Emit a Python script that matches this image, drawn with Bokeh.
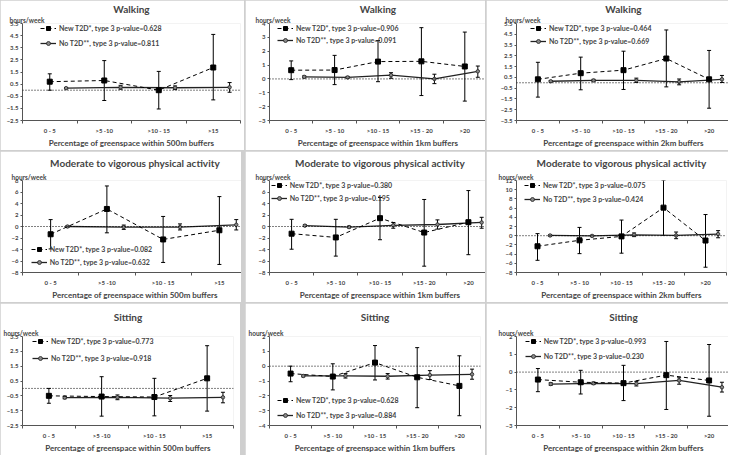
from bokeh.plotting import figure
from bokeh.layouts import gridplot
from bokeh.models import (ColumnDataSource, Whisker, TeeHead, Span, Title, Legend,
                          LegendItem, FixedTicker, Range1d)
from bokeh.embed import file_html
from bokeh.resources import INLINE

FONT = "Lato"

# ---------------- data ----------------
cats4 = ["0 - 5", ">5 -10", ">10 - 15", ">15"]
cats5 = ["0 - 5", ">5 - 10", ">10 - 15", ">15 - 20", ">20"]

walk500_new = [0.70, 0.80, 0.00, 1.87]
walk500_new_lo = [0.00, -0.85, -1.55, -0.80]
walk500_new_hi = [1.35, 2.44, 1.55, 4.60]
walk500_no = [0.17, 0.24, 0.20, 0.24]
walk500_no_lo = [0.12, 0.08, 0.05, -0.17]
walk500_no_hi = [0.22, 0.40, 0.35, 0.63]
walk500_yticks = [-2.5, -1.5, -0.5, 0.5, 1.5, 2.5, 3.5, 4.5, 5.5]
walk500_p = ["0.628", "0.811"]

walk1k_new = [0.63, 0.64, 1.25, 1.27, 0.90]
walk1k_new_lo = [-0.05, -0.41, -0.20, -1.20, -1.60]
walk1k_new_hi = [1.30, 1.70, 2.77, 3.70, 3.38]
walk1k_no = [0.15, 0.11, 0.27, 0.00, 0.55]
walk1k_no_lo = [0.08, 0.04, 0.05, -0.34, 0.12]
walk1k_no_hi = [0.22, 0.18, 0.45, 0.34, 0.93]
walk1k_yticks = [-3, -2, -1, 0, 1, 2, 3, 4]
walk1k_p = ["0.906", "0.091"]

walk2k_new = [0.32, 0.89, 1.17, 2.25, 0.32]
walk2k_new_lo = [-1.33, -0.65, -0.62, -0.38, -2.36]
walk2k_new_hi = [1.90, 2.38, 2.93, 4.90, 3.00]
walk2k_no = [0.14, 0.22, 0.22, 0.08, 0.32]
walk2k_no_lo = [0.07, 0.12, 0.03, -0.19, 0.03]
walk2k_no_hi = [0.21, 0.32, 0.43, 0.35, 0.68]
walk2k_yticks = [-3.5, -2.5, -1.5, -0.5, 0.5, 1.5, 2.5, 3.5, 4.5, 5.5]
walk2k_p = ["0.464", "0.669"]

mvpa500_new = [-1.35, 3.05, -2.25, -0.65]
mvpa500_new_lo = [-3.90, -1.10, -6.25, -6.60]
mvpa500_new_hi = [1.20, 7.05, 1.75, 5.20]
mvpa500_no = [0.00, -0.10, -0.10, 0.30]
mvpa500_no_lo = [-0.15, -0.50, -0.60, -0.60]
mvpa500_no_hi = [0.15, 0.25, 0.45, 1.20]
mvpa500_yticks = [-8, -6, -4, -2, 0, 2, 4, 6, 8]
mvpa500_p = ["0.082", "0.632"]

mvpa1k_new = [-1.25, -1.90, 1.45, -1.05, 0.75]
mvpa1k_new_lo = [-3.95, -5.15, -2.30, -6.90, -4.90]
mvpa1k_new_hi = [1.25, 1.25, 5.05, 4.70, 6.25]
mvpa1k_no = [0.15, -0.10, 0.20, 0.35, 0.70]
mvpa1k_no_lo = [0.00, -0.25, -0.30, -0.45, -0.30]
mvpa1k_no_hi = [0.30, 0.05, 0.70, 1.15, 1.60]
mvpa1k_yticks = [-8, -6, -4, -2, 0, 2, 4, 6, 8]
mvpa1k_p = ["0.380", "0.195"]

mvpa2k_new = [-2.30, -1.00, -0.15, 6.10, -1.05]
mvpa2k_new_lo = [-5.35, -3.90, -3.80, 0.05, -6.85]
mvpa2k_new_hi = [0.45, 1.80, 3.40, 12.05, 4.60]
mvpa2k_no = [0.05, -0.05, 0.20, 0.05, 0.35]
mvpa2k_no_lo = [-0.10, -0.20, -0.20, -0.65, -0.45]
mvpa2k_no_hi = [0.20, 0.10, 0.60, 0.80, 1.10]
mvpa2k_yticks = [-8, -6, -4, -2, 0, 2, 4, 6, 8, 10, 12]
mvpa2k_p = ["0.075", "0.424"]

sit500_new = [-0.50, -0.55, -0.58, 0.68]
sit500_new_lo = [-1.00, -1.87, -1.85, -1.53]
sit500_new_hi = [0.00, 0.79, 0.68, 2.88]
sit500_no = [-0.62, -0.60, -0.66, -0.60]
sit500_no_lo = [-0.70, -0.76, -0.88, -0.97]
sit500_no_hi = [-0.54, -0.44, -0.48, -0.26]
sit500_yticks = [-2.5, -1.5, -0.5, 0.5, 1.5, 2.5, 3.5]
sit500_p = ["0.773", "0.918"]

sit1k_new = [-0.50, -0.70, 0.24, -0.75, -1.33]
sit1k_new_lo = [-1.05, -1.60, -0.93, -2.80, -3.34]
sit1k_new_hi = [0.00, 0.16, 1.39, 1.25, 0.70]
sit1k_no = [-0.66, -0.65, -0.68, -0.60, -0.55]
sit1k_no_lo = [-0.72, -0.80, -0.87, -0.90, -0.88]
sit1k_no_hi = [-0.60, -0.50, -0.50, -0.30, -0.20]
sit1k_yticks = [-4, -3, -2, -1, 0, 1, 2]
sit1k_p = ["0.628", "0.884"]

sit2k_new = [-0.42, -0.57, -0.62, -0.17, -0.47]
sit2k_new_lo = [-1.10, -1.23, -1.60, -2.10, -2.48]
sit2k_new_hi = [0.20, 0.10, 0.38, 1.72, 1.55]
sit2k_no = [-0.67, -0.63, -0.65, -0.47, -0.85]
sit2k_no_lo = [-0.74, -0.70, -0.78, -0.68, -1.12]
sit2k_no_hi = [-0.60, -0.56, -0.52, -0.32, -0.57]
sit2k_yticks = [-3, -2, -1, 0, 1, 2]
sit2k_p = ["0.993", "0.230"]

titles = ["Walking", "Moderate to vigorous physical activity", "Sitting"]
xlabels = ["Percentage of greenspace within 500m buffers",
           "Percentage of greenspace within 1km buffers",
           "Percentage of greenspace within 2km buffers"]
unit_label = "hours/week"
legend_new = "New T2D*, type 3 p-value="
legend_no = "No T2D**, type 3 p-value="

data = [
    [(cats4, walk500_new, walk500_new_lo, walk500_new_hi, walk500_no, walk500_no_lo, walk500_no_hi, walk500_yticks, walk500_p),
     (cats5, walk1k_new, walk1k_new_lo, walk1k_new_hi, walk1k_no, walk1k_no_lo, walk1k_no_hi, walk1k_yticks, walk1k_p),
     (cats5, walk2k_new, walk2k_new_lo, walk2k_new_hi, walk2k_no, walk2k_no_lo, walk2k_no_hi, walk2k_yticks, walk2k_p)],
    [(cats4, mvpa500_new, mvpa500_new_lo, mvpa500_new_hi, mvpa500_no, mvpa500_no_lo, mvpa500_no_hi, mvpa500_yticks, mvpa500_p),
     (cats5, mvpa1k_new, mvpa1k_new_lo, mvpa1k_new_hi, mvpa1k_no, mvpa1k_no_lo, mvpa1k_no_hi, mvpa1k_yticks, mvpa1k_p),
     (cats5, mvpa2k_new, mvpa2k_new_lo, mvpa2k_new_hi, mvpa2k_no, mvpa2k_no_lo, mvpa2k_no_hi, mvpa2k_yticks, mvpa2k_p)],
    [(cats4, sit500_new, sit500_new_lo, sit500_new_hi, sit500_no, sit500_no_lo, sit500_no_hi, sit500_yticks, sit500_p),
     (cats5, sit1k_new, sit1k_new_lo, sit1k_new_hi, sit1k_no, sit1k_no_lo, sit1k_no_hi, sit1k_yticks, sit1k_p),
     (cats5, sit2k_new, sit2k_new_lo, sit2k_new_hi, sit2k_no, sit2k_no_lo, sit2k_no_hi, sit2k_yticks, sit2k_p)],
]

# ---------------- layout (positions / sizes) ----------------
col_w = [240, 240, 242]
row_frame_h = [97, 92, 89]
row_title_standoff = [0, 6, 10]
BOTTOM = 23
# borders; legend: glyph left (from frame left), anchor, row centre (from frame top or bottom), row gap
lay = [
    [dict(l=15, r=7, dx=18, anchor="top", c=5, gap=15, ux=2),
     dict(l=16, r=7, dx=15, anchor="top", c=5, gap=12, ux=2),
     dict(l=21, r=7, dx=22, anchor="top", c=5, gap=13, ux=10)],
    [dict(l=13, r=2, dx=16, anchor="bottom", c=10, gap=13, ux=2),
     dict(l=17, r=2, dx=10, anchor="top", c=5, gap=13, ux=3),
     dict(l=30, r=2, dx=8, anchor="top", c=5, gap=14, ux=12)],
    [dict(l=22, r=7, dx=10, anchor="top", c=5, gap=17, ux=3),
     dict(l=24, r=5, dx=8, anchor="bottom", c=10, gap=15, ux=3),
     dict(l=21, r=7, dx=20, anchor="top", c=5, gap=15, ux=3)],
]

ITEM_H = 10
AX = "#555555"


def make_panel(r, c):
    cats, new, new_lo, new_hi, no, no_lo, no_hi, yticks, pv = data[r][c]
    L = lay[r][c]
    FW = col_w[c] - L["l"] - L["r"]
    FH = row_frame_h[r]
    n = len(cats)
    x_new = list(range(n))
    x_no = [i + 0.3 for i in range(n)]

    p = figure(frame_width=FW, frame_height=FH, x_range=Range1d(-0.5, n - 0.5),
               y_range=Range1d(yticks[0], yticks[-1]),
               output_backend="svg", toolbar_location=None, tools="",
               min_border_left=L["l"], min_border_right=L["r"],
               min_border_top=0, min_border_bottom=BOTTOM)
    p.outline_line_color = None
    p.xgrid.grid_line_color = None
    p.ygrid.grid_line_color = None
    p.background_fill_color = "white"
    p.border_fill_color = "white"

    # unit label (next to the frame) and main title (outermost)
    p.add_layout(Title(text=unit_label, align="left", offset=L["ux"] - L["l"],
                       text_font=FONT, text_font_size="6.5px", text_font_style="bold",
                       standoff=0), "above")
    p.title.text = titles[r]
    p.title.align = "center"
    p.title.text_font = FONT
    p.title.text_font_size = "10px"
    p.title.text_font_style = "bold"
    p.title.standoff = row_title_standoff[r]

    # axes
    p.xaxis.ticker = FixedTicker(ticks=x_new, minor_ticks=[i - 0.5 for i in range(n + 1)])
    p.xaxis.major_label_overrides = {i: s for i, s in enumerate(cats)}
    p.xaxis.major_tick_line_color = None
    p.xaxis.major_tick_out = 0
    p.xaxis.major_tick_in = 0
    p.xaxis.minor_tick_line_color = AX
    p.xaxis.minor_tick_out = 3
    p.xaxis.minor_tick_in = 0
    p.xaxis.axis_line_color = AX
    p.xaxis.major_label_text_font = FONT
    p.xaxis.major_label_text_font_size = "6px"
    p.xaxis.major_label_text_font_style = "bold"
    p.xaxis.major_label_standoff = 3
    p.xaxis.axis_label = xlabels[c]
    p.xaxis.axis_label_text_font = FONT
    p.xaxis.axis_label_text_font_size = "8px"
    p.xaxis.axis_label_text_font_style = "bold"
    p.xaxis.axis_label_standoff = 1

    p.yaxis.ticker = FixedTicker(ticks=yticks)
    p.yaxis.minor_tick_line_color = None
    p.yaxis.major_tick_out = 2
    p.yaxis.major_tick_in = 0
    p.yaxis.axis_line_color = AX
    p.yaxis.major_tick_line_color = AX
    p.yaxis.major_label_text_font = FONT
    p.yaxis.major_label_text_font_size = "6px"
    p.yaxis.major_label_text_font_style = "bold"
    p.yaxis.major_label_standoff = 2

    p.add_layout(Span(location=0, dimension="width", line_color="black",
                      line_width=1, line_dash="1 2"))

    # error bars
    src_new = ColumnDataSource(dict(x=x_new, lo=new_lo, hi=new_hi))
    src_no = ColumnDataSource(dict(x=x_no, lo=no_lo, hi=no_hi))
    for src in (src_new, src_no):
        p.add_layout(Whisker(source=src, base="x", lower="lo", upper="hi",
                             dimension="height", line_color="black", line_width=1,
                             upper_head=TeeHead(size=4, line_color="black", line_width=1),
                             lower_head=TeeHead(size=4, line_color="black", line_width=1)))

    r_no_line = p.line(x_no, no, line_color="#222222", line_width=1.3)
    r_no_pts = p.scatter(x_no, no, marker="circle", size=3.5, fill_color="#888888",
                         line_color="#222222", line_width=0.8)
    r_new_line = p.line(x_new, new, line_color="black", line_width=1, line_dash="4 3")
    r_new_pts = p.scatter(x_new, new, marker="square", size=5, fill_color="black",
                          line_color="black")

    # legend (location = bottom-left corner of the legend box, from frame bottom-left)
    s = L["gap"] - ITEM_H
    if L["anchor"] == "top":
        vy = FH - (L["c"] + ITEM_H * 1.5 + s)
    else:
        vy = L["c"] - ITEM_H / 2
    leg = Legend(items=[LegendItem(label=legend_new + pv[0], renderers=[r_new_line, r_new_pts]),
                        LegendItem(label=legend_no + pv[1], renderers=[r_no_line, r_no_pts])],
                 location=(L["dx"], vy), padding=0, margin=0, spacing=s,
                 glyph_width=16, glyph_height=ITEM_H, label_height=ITEM_H,
                 label_standoff=3, label_text_font=FONT, label_text_font_size="7px",
                 label_text_font_style="bold", background_fill_alpha=0,
                 border_line_alpha=0)
    p.add_layout(leg)
    return p


rows = [[make_panel(r, c) for c in range(3)] for r in range(3)]
grid = gridplot(rows, toolbar_location=None)
grid.spacing = 1
grid.styles = {"background-color": "#cfcfcf"}

open("out.html", "w").write(file_html(grid, INLINE))
